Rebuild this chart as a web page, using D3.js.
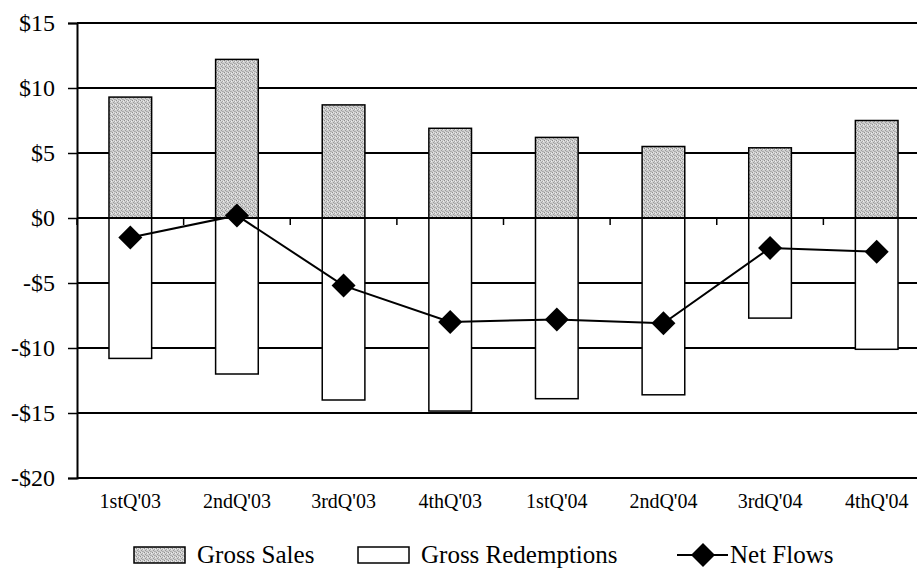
<!DOCTYPE html>
<html>
<head>
<meta charset="utf-8">
<script src="https://cdn.jsdelivr.net/npm/d3@7"></script>
<style>
  html, body { margin: 0; padding: 0; background: #fff; }
  svg { display: block; }
  svg text { font-family: "Liberation Serif", "Times New Roman", serif !important; fill: #000; }
</style>
</head>
<body>
<svg id="chart" width="917" height="571"></svg>
<script>
// Quarterly fund flows, billions of dollars
const quarters = ["1stQ'03", "2ndQ'03", "3rdQ'03", "4thQ'03", "1stQ'04", "2ndQ'04", "3rdQ'04", "4thQ'04"];
const grossSales = [9.3, 12.2, 8.7, 6.9, 6.2, 5.5, 5.4, 7.5];
const grossRedemptions = [-10.8, -12.0, -14.0, -14.85, -13.9, -13.6, -7.7, -10.1];
const netFlows = [-1.5, 0.2, -5.2, -8.0, -7.8, -8.1, -2.3, -2.6];
const yTicks = [15, 10, 5, 0, -5, -10, -15, -20];
const legendLabels = ["Gross Sales", "Gross Redemptions", "Net Flows"];

const svg = d3.select("#chart");
const plot = { left: 77, right: 930, top: 23, bottom: 478 };

const x = d3.scaleBand()
  .domain(quarters)
  .range([plot.left, plot.right])
  .paddingInner(0.6)
  .paddingOuter(0.3);

const y = d3.scaleLinear()
  .domain([-20, 15])
  .range([plot.bottom, plot.top]);

const fmt = v => (v < 0 ? "-$" : "$") + Math.abs(v);

// stippled grey fill for the sales bars
const defs = svg.append("defs");
const pat = defs.append("pattern")
  .attr("id", "stipple")
  .attr("patternUnits", "userSpaceOnUse")
  .attr("width", 4).attr("height", 4);
pat.append("rect").attr("width", 4).attr("height", 4).attr("fill", "#cfcfcf");
[[0,0,"#8e8e8e"],[2,1,"#a6a6a6"],[1,2,"#9a9a9a"],[3,3,"#b2b2b2"],[3,1,"#eeeeee"],[1,0,"#e4e4e4"],[2,3,"#a8a8a8"]]
  .forEach(([px, py, c]) => pat.append("rect").attr("x", px).attr("y", py).attr("width", 1).attr("height", 1).attr("fill", c));

// horizontal gridlines
svg.append("g")
  .selectAll("line")
  .data(yTicks)
  .join("line")
  .attr("x1", plot.left).attr("x2", plot.right)
  .attr("y1", d => y(d)).attr("y2", d => y(d))
  .attr("stroke", "#000").attr("stroke-width", 2);

// y axis
const yAxis = svg.append("g")
  .attr("transform", `translate(${plot.left},0)`)
  .call(d3.axisLeft(y).tickValues(yTicks).tickFormat(fmt).tickSize(9).tickPadding(13));
yAxis.attr("font-family", null);
yAxis.select(".domain").attr("stroke", "#000").attr("stroke-width", 2);
yAxis.selectAll(".tick line").attr("stroke", "#000").attr("stroke-width", 1.5);
yAxis.selectAll(".tick text").attr("font-size", 24);

// sales bars (above zero)
svg.append("g")
  .selectAll("rect")
  .data(quarters.map((q, i) => ({ q, v: grossSales[i] })))
  .join("rect")
  .attr("x", d => x(d.q))
  .attr("width", x.bandwidth())
  .attr("y", d => y(d.v))
  .attr("height", d => y(0) - y(d.v))
  .attr("fill", "url(#stipple)")
  .attr("stroke", "#000").attr("stroke-width", 1.5);

// redemption bars (below zero)
svg.append("g")
  .selectAll("rect")
  .data(quarters.map((q, i) => ({ q, v: grossRedemptions[i] })))
  .join("rect")
  .attr("x", d => x(d.q))
  .attr("width", x.bandwidth())
  .attr("y", y(0))
  .attr("height", d => y(d.v) - y(0))
  .attr("fill", "#fff")
  .attr("stroke", "#000").attr("stroke-width", 1.5);

// category axis along zero line, ticks at category boundaries
const boundaries = d3.range(quarters.length + 1).map(i => plot.left + i * x.step());
svg.append("line")
  .attr("x1", plot.left).attr("x2", plot.right)
  .attr("y1", y(0)).attr("y2", y(0))
  .attr("stroke", "#000").attr("stroke-width", 2);
svg.append("g")
  .selectAll("line")
  .data(boundaries)
  .join("line")
  .attr("x1", d => d).attr("x2", d => d)
  .attr("y1", y(0)).attr("y2", y(0) + 7)
  .attr("stroke", "#000").attr("stroke-width", 1.5);

// category labels below the plot
svg.append("g")
  .selectAll("text")
  .data(quarters)
  .join("text")
  .attr("x", d => x(d) + x.bandwidth() / 2)
  .attr("y", 508)
  .attr("text-anchor", "middle")
  .attr("font-size", 20)
  .text(d => d);

// net flows line with diamond markers
const diamondPath = "M0,-12L12,0L0,12L-12,0Z";
const pts = quarters.map((q, i) => [x(q) + x.bandwidth() / 2, y(netFlows[i])]);
svg.append("path")
  .attr("d", d3.line()(pts))
  .attr("fill", "none")
  .attr("stroke", "#000").attr("stroke-width", 2);
svg.append("g")
  .selectAll("path")
  .data(pts)
  .join("path")
  .attr("transform", d => `translate(${d[0]},${d[1]})`)
  .attr("d", diamondPath)
  .attr("fill", "#000");

// legend
const lg = svg.append("g");
const ly = 555;
const base = 563;
lg.append("rect").attr("x", 134).attr("y", 547).attr("width", 51).attr("height", 16)
  .attr("fill", "url(#stipple)").attr("stroke", "#000").attr("stroke-width", 1.5);
lg.append("text").attr("x", 197).attr("y", base).attr("font-size", 25).text(legendLabels[0]);
lg.append("rect").attr("x", 358).attr("y", 547).attr("width", 51).attr("height", 16)
  .attr("fill", "#fff").attr("stroke", "#000").attr("stroke-width", 1.5);
lg.append("text").attr("x", 421).attr("y", base).attr("font-size", 25).text(legendLabels[1]);
lg.append("line").attr("x1", 677).attr("x2", 728).attr("y1", ly).attr("y2", ly)
  .attr("stroke", "#000").attr("stroke-width", 2);
lg.append("path").attr("transform", `translate(703,${ly})`)
  .attr("d", diamondPath).attr("fill", "#000");
lg.append("text").attr("x", 730).attr("y", base).attr("font-size", 25).text(legendLabels[2]);
</script>
</body>
</html>
